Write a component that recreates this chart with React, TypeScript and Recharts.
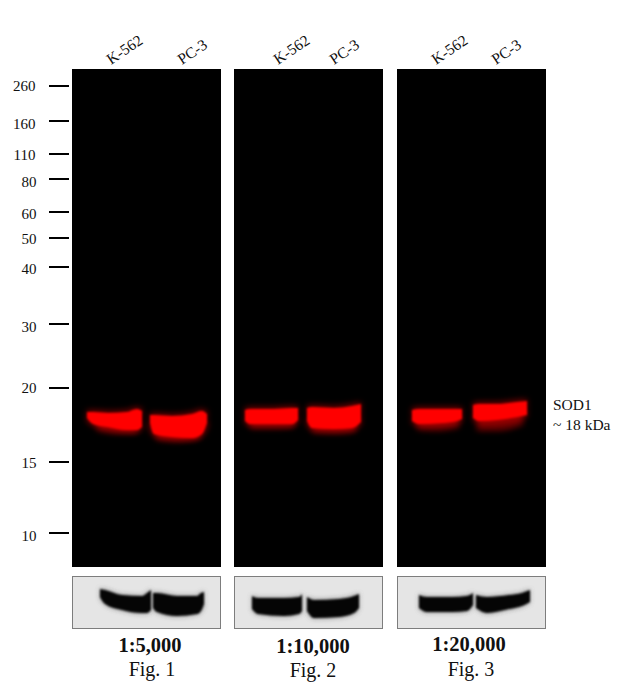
import { ComposedChart, Area, XAxis, YAxis, CartesianGrid } from "recharts";

// marker ladder: kDa label and how far each marker ran down the membrane
const markerKda = [260, 160, 110, 80, 60, 50, 40, 30, 20, 15, 10];
const markerRun = [17, 52, 85, 110, 143, 169, 198, 255, 319, 393, 464];
const markerLabelShift = [0, 2.5, 1, 2.5, 2, 1, 2, 3, 0, 1, 3];

const laneNames = ["K-562", "PC-3"];
const fig1LabelAt = [39, 110];
const fig2LabelAt = [44, 100];
const fig3LabelAt = [39, 99];

// band outlines, each row is [lane position, top edge, bottom edge]
const fig1RedK562 = [[15, 343, 349], [21, 343, 355], [36, 344, 358], [55, 343, 361], [65, 340, 361], [70, 342, 358]];
const fig1RedPC3 = [[78, 346, 354], [82, 346, 365], [100, 347, 368], [120, 345, 369], [130, 342, 365], [135, 345, 354]];
const fig2RedK562 = [[11, 341, 352], [16, 340, 355], [40, 340, 355], [58, 339, 355], [64, 339, 351]];
const fig2RedPC3 = [[73, 339, 352], [78, 338, 359], [100, 339, 360], [118, 337, 359], [127, 335, 353]];
const fig3RedK562 = [[15, 341, 352], [22, 340, 355], [45, 340, 354], [60, 340, 352], [65, 340, 350]];
const fig3RedPC3 = [[76, 336, 349], [82, 335, 352], [100, 335, 351], [120, 333, 348], [130, 332, 346]];

// dim trailing smear under the bands, same columns
const fig1TailK562 = [[25, 350, 360], [45, 350, 363], [65, 350, 363]];
const fig1TailPC3 = [[84, 355, 369], [105, 355, 371], [128, 355, 368]];
const fig2TailK562 = [[16, 346, 358], [40, 346, 358], [60, 346, 357]];
const fig2TailPC3 = [[78, 346, 362], [100, 346, 363], [122, 346, 361]];
const fig3TailK562 = [[20, 346, 359], [40, 346, 360], [62, 346, 357]];
const fig3TailPC3 = [[80, 342, 360], [100, 342, 360], [126, 340, 354]];

const fig1LoadK562 = [[28, 13, 21], [33, 14, 28], [50, 19, 34], [70, 20, 37], [75, 17, 37], [79, 14, 34]];
const fig1LoadPC3 = [[81, 17, 32], [85, 17, 36], [105, 20, 40], [125, 20, 38], [129, 17, 35], [132, 16, 28]];
const fig2LoadK562 = [[18, 20, 33], [24, 22, 38], [50, 22, 40], [65, 21, 38], [68, 18, 35]];
const fig2LoadPC3 = [[73, 21, 35], [80, 24, 42], [105, 23, 41], [120, 20, 37], [125, 18, 32]];
const fig3LoadK562 = [[22, 19, 32], [30, 21, 36], [55, 21, 36], [70, 20, 35], [76, 17, 29]];
const fig3LoadPC3 = [[79, 19, 32], [90, 21, 37], [112, 19, 33], [125, 17, 30], [133, 14, 26]];

const dilutions = ["1:5,000", "1:10,000", "1:20,000"];
const figNames = ["Fig. 1", "Fig. 2", "Fig. 3"];

const SERIF = '"Liberation Serif", serif';

function tableFrom(a: number[][], b: number[][], ta: number[][] = [], tb: number[][] = []) {
  return [
    ...ta.map((r) => ({ lane: r[0], smearA: [r[1], r[2]] })),
    ...tb.map((r) => ({ lane: r[0], smearB: [r[1], r[2]] })),
    ...a.map((r) => ({ lane: r[0], first: [r[1], r[2]] })),
    ...b.map((r) => ({ lane: r[0], second: [r[1], r[2]] })),
  ];
}

function bandArea(key: string, color: string, blur: number, stroke?: number, opacity = 1) {
  return (
    <Area
      key={key + blur}
      dataKey={key}
      type="monotone"
      fill={color}
      fillOpacity={opacity}
      stroke={stroke ? color : "none"}
      strokeWidth={stroke || 0}
      strokeOpacity={opacity}
      dot={false}
      activeDot={false}
      isAnimationActive={false}
      style={{ filter: `blur(${blur}px)` }}
    />
  );
}

function LaneTick(props: any) {
  const { x, y, index } = props;
  return (
    <text
      x={x}
      y={y - 2}
      transform={`rotate(-34 ${x} ${y - 2})`}
      fontFamily={SERIF}
      fontSize={15.5}
      fill="#111"
    >
      {laneNames[index]}
    </text>
  );
}

function MarkerTick(props: any) {
  const { x, y, index } = props;
  return (
    <g>
      <line x1={x - 23} x2={x - 3} y1={y} y2={y} stroke="#000" strokeWidth={2} />
      <text
        x={index < 3 ? x - 36.5 : x - 35.5}
        y={y + 5 + markerLabelShift[index]}
        textAnchor="end"
        fontFamily={SERIF}
        fontSize={15}
        fill="#111"
      >
        {markerKda[index]}
      </text>
    </g>
  );
}

function MainPanel({
  left, first, second, smearA, smearB, labelAt, ladder,
}: {
  left: number; first: number[][]; second: number[][]; smearA: number[][]; smearB: number[][];
  labelAt: number[]; ladder?: boolean;
}) {
  const axisW = ladder ? 72 : 0;
  return (
    <div style={{ position: "absolute", left: left - axisW, top: 0 }}>
      <ComposedChart
        width={149 + axisW}
        height={567}
        data={tableFrom(first, second, smearA, smearB)}
        margin={{ top: 0, right: 0, bottom: 0, left: 0 }}
      >
        <CartesianGrid horizontal={false} vertical={false} fill="#000" />
        <XAxis
          xAxisId={0}
          type="number"
          dataKey="lane"
          orientation="top"
          domain={[0, 149]}
          ticks={labelAt}
          interval={0}
          height={69}
          axisLine={false}
          tickLine={false}
          tickSize={0}
          tick={<LaneTick />}
        />
        <YAxis
          type="number"
          reversed
          domain={[0, 498]}
          ticks={markerRun}
          interval={0}
          width={axisW}
          hide={!ladder}
          axisLine={false}
          tickLine={false}
          tickSize={0}
          tickMargin={0}
          tick={<MarkerTick />}
        />
        {bandArea("smearA", "#ff0000", 3, 2, 0.45)}
        {bandArea("smearB", "#ff0000", 3, 2, 0.45)}
        {bandArea("first", "#ff0000", 3, 4, 0.35)}
        {bandArea("second", "#ff0000", 3, 4, 0.35)}
        {bandArea("first", "#ff0000", 1)}
        {bandArea("second", "#ff0000", 1)}
      </ComposedChart>
    </div>
  );
}

function LoadingBlot({ left, first, second }: { left: number; first: number[][]; second: number[][] }) {
  return (
    <div
      style={{
        position: "absolute", left, top: 576, width: 149, height: 53,
        boxSizing: "border-box", border: "1px solid #7d7d7d", background: "#e5e5e5",
      }}
    >
      <div style={{ position: "absolute", left: -1, top: -1 }}>
        <ComposedChart
          width={149}
          height={53}
          data={tableFrom(first, second)}
          margin={{ top: 0, right: 0, bottom: 0, left: 0 }}
        >
          <XAxis type="number" dataKey="lane" domain={[0, 149]} hide />
          <YAxis type="number" reversed domain={[0, 53]} hide />
          {bandArea("first", "#555", 2.5, 1, 0.5)}
          {bandArea("second", "#555", 2.5, 1, 0.5)}
          {bandArea("first", "#050505", 0.8)}
          {bandArea("second", "#050505", 0.8)}
        </ComposedChart>
      </div>
    </div>
  );
}

function Caption({ x, y, size, bold, children }: any) {
  return (
    <div
      style={{
        position: "absolute", left: x - 100, width: 200, top: y, textAlign: "center",
        fontFamily: SERIF, fontSize: size, lineHeight: "24px", fontWeight: bold ? 700 : 400, color: "#111",
      }}
    >
      {children}
    </div>
  );
}

export default function App() {
  return (
    <div style={{ position: "absolute", left: 0, top: 0, width: 635, height: 696, background: "#fff", overflow: "hidden" }}>
      <MainPanel left={72} first={fig1RedK562} second={fig1RedPC3} smearA={fig1TailK562} smearB={fig1TailPC3} labelAt={fig1LabelAt} ladder />
      <MainPanel left={234} first={fig2RedK562} second={fig2RedPC3} smearA={fig2TailK562} smearB={fig2TailPC3} labelAt={fig2LabelAt} />
      <MainPanel left={397} first={fig3RedK562} second={fig3RedPC3} smearA={fig3TailK562} smearB={fig3TailPC3} labelAt={fig3LabelAt} />

      <LoadingBlot left={72} first={fig1LoadK562} second={fig1LoadPC3} />
      <LoadingBlot left={234} first={fig2LoadK562} second={fig2LoadPC3} />
      <LoadingBlot left={397} first={fig3LoadK562} second={fig3LoadPC3} />

      <Caption x={150} y={633} size={20.5} bold>{dilutions[0]}</Caption>
      <Caption x={152} y={657} size={20}>{figNames[0]}</Caption>
      <Caption x={313} y={634} size={20.5} bold>{dilutions[1]}</Caption>
      <Caption x={313} y={658} size={20}>{figNames[1]}</Caption>
      <Caption x={469} y={632} size={20.5} bold>{dilutions[2]}</Caption>
      <Caption x={471} y={657} size={20}>{figNames[2]}</Caption>

      <div style={{ position: "absolute", left: 553, top: 395, fontFamily: SERIF, fontSize: 15.5, lineHeight: "20px", color: "#111" }}>
        SOD1<br />~ 18 kDa
      </div>
    </div>
  );
}
